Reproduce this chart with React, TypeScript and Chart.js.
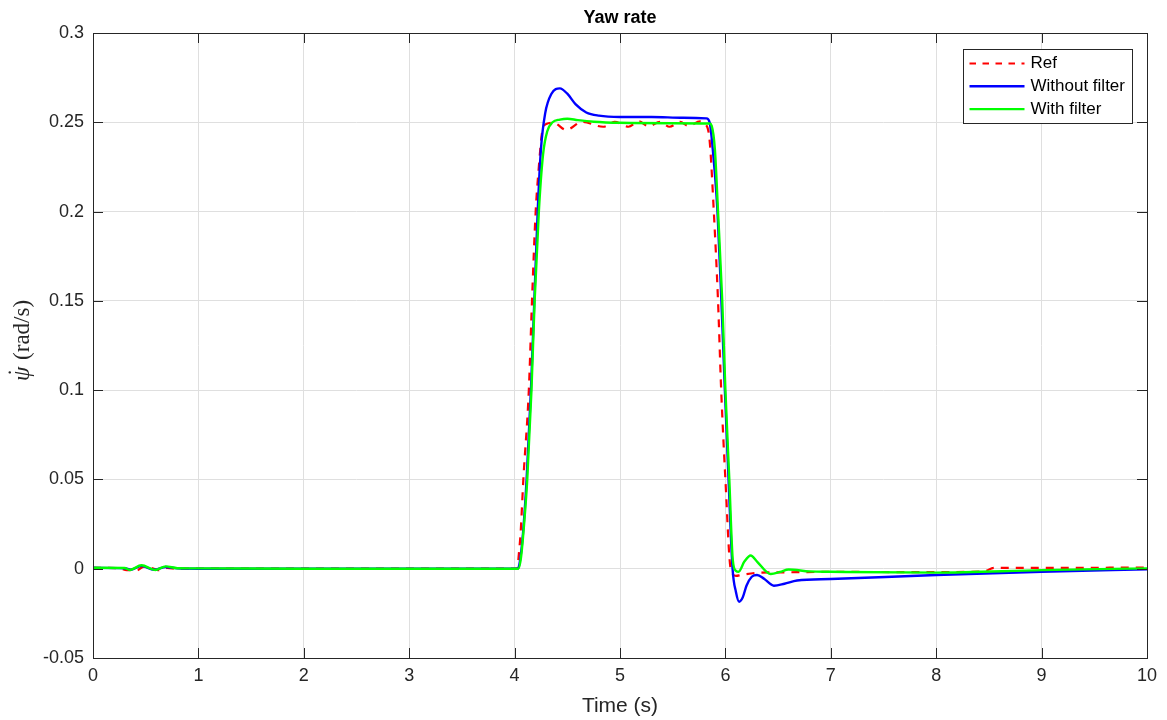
import React, { useEffect, useRef } from "react";
import { Chart, registerables } from "chart.js";

Chart.register(...registerables);

// ---- Data (time in s, yaw rate in rad/s) ----
const refT = [0, 0.25, 0.32, 0.42, 0.48, 0.55, 0.62, 0.7, 0.8, 1, 2, 3, 4.0, 4.026, 4.04, 4.057, 4.083, 4.135, 4.165, 4.2, 4.23, 4.26, 4.3, 4.37, 4.49, 4.64, 4.84, 4.95, 5.08, 5.18, 5.27, 5.38, 5.47, 5.57, 5.65, 5.76, 5.81, 5.85, 5.89, 5.93, 5.96, 6.0, 6.05, 6.1, 6.15, 6.3, 6.6, 7, 8, 8.45, 8.55, 9, 10];
const refY = [0.0005, 0.0003, -0.0008, -0.0008, 0.0012, 0.0005, -0.0008, 0.0004, 0, 0, 0, 0, 0, 0, 0.008, 0.02, 0.05, 0.1, 0.15, 0.2, 0.225, 0.244, 0.249, 0.2497, 0.2457, 0.2503, 0.2475, 0.2502, 0.2475, 0.2505, 0.2477, 0.2502, 0.2475, 0.2502, 0.248, 0.2505, 0.249, 0.24, 0.2, 0.15, 0.1, 0.05, 0, -0.004, -0.0035, -0.0023, -0.002, -0.0018, -0.0019, -0.0015, 0.0005, 0.0005, 0.0006];

const noFilterT = [0, 0.3, 0.36, 0.46, 0.58, 0.69, 0.8, 1, 2, 3, 4.0, 4.03, 4.05, 4.08, 4.114, 4.155, 4.187, 4.219, 4.25, 4.29, 4.35, 4.43, 4.5, 4.58, 4.68, 4.8, 5.0, 5.3, 5.6, 5.82, 5.85, 5.88, 5.925, 5.962, 5.995, 6.03, 6.068, 6.1, 6.13, 6.165, 6.2, 6.25, 6.3, 6.37, 6.46, 6.56, 6.68, 7, 8, 9, 10];
const noFilterY = [0.0005, 0.0003, -0.0006, 0.0016, -0.0006, 0.001, 0.0002, 0, 0, 0, 0, 0, 0.004, 0.02, 0.05, 0.1, 0.15, 0.2, 0.235, 0.255, 0.266, 0.269, 0.266, 0.26, 0.2555, 0.2537, 0.253, 0.253, 0.2525, 0.2522, 0.25, 0.235, 0.2, 0.15, 0.1, 0.05, 0, -0.013, -0.0185, -0.016, -0.0095, -0.0045, -0.0035, -0.0058, -0.0095, -0.0084, -0.0066, -0.0058, -0.0035, -0.0017, -0.0003];

const filterT = [0, 0.3, 0.35, 0.46, 0.59, 0.69, 0.8, 1, 2, 3, 4.0, 4.035, 4.06, 4.09, 4.12, 4.16, 4.19, 4.23, 4.27, 4.31, 4.36, 4.43, 4.5, 4.6, 4.75, 5.0, 5.5, 5.85, 5.87, 5.9, 5.93, 5.97, 6.0, 6.037, 6.07, 6.1, 6.125, 6.18, 6.24, 6.3, 6.43, 6.52, 6.6, 6.8, 7, 8, 9, 10];
const filterY = [0.0005, 0.0004, -0.0007, 0.0019, -0.0007, 0.0013, 0.0003, 0.0002, 0, 0, 0, 0, 0.006, 0.025, 0.05, 0.1, 0.15, 0.2, 0.232, 0.245, 0.25, 0.2515, 0.252, 0.2512, 0.2503, 0.2497, 0.2495, 0.2493, 0.248, 0.235, 0.2, 0.15, 0.1, 0.05, 0.005, -0.0012, -0.0017, 0.004, 0.0074, 0.004, -0.003, -0.0018, -0.0004, -0.0015, -0.0017, -0.0022, -0.0008, 0.0002];

const seriesNames = ["Ref", "Without filter", "With filter"];
const xTickValues = [0, 1, 2, 3, 4, 5, 6, 7, 8, 9, 10];
const yTickValues = [-0.05, 0, 0.05, 0.1, 0.15, 0.2, 0.25, 0.3];
const yTickLabels = ["-0.05", "0", "0.05", "0.1", "0.15", "0.2", "0.25", "0.3"];
const yLabelSymbol = "ψ";
const yLabelDot = "˙";
const yLabelUnit = "(rad/s)";

const SANS = "'Liberation Sans', Arial, Helvetica, sans-serif";
const SERIF = "'Liberation Serif', 'Times New Roman', serif";
const AXIS_COLOR = "#262626";
const GRID_COLOR = "#dfdfdf";

const toPoints = (t: number[], y: number[]) => t.map((x, i) => ({ x, y: y[i] }));

const matlabAxes = {
  id: "matlabAxes",
  afterDraw(chart: any) {
    const { ctx, chartArea: a, scales } = chart;
    const xs = scales.x;
    const ys = scales.y;
    ctx.save();
    ctx.strokeStyle = AXIS_COLOR;
    ctx.lineWidth = 1;
    const tl = 10;
    ctx.beginPath();
    xTickValues.forEach((v) => {
      const px = Math.round(xs.getPixelForValue(v)) + 0.5;
      ctx.moveTo(px, a.bottom);
      ctx.lineTo(px, a.bottom - tl);
      ctx.moveTo(px, a.top);
      ctx.lineTo(px, a.top + tl);
    });
    yTickValues.forEach((v) => {
      const py = Math.round(ys.getPixelForValue(v)) + 0.5;
      ctx.moveTo(a.left, py);
      ctx.lineTo(a.left + tl, py);
      ctx.moveTo(a.right, py);
      ctx.lineTo(a.right - tl, py);
    });
    ctx.stroke();
    ctx.strokeRect(Math.round(a.left) + 0.5, Math.round(a.top) + 0.5, Math.round(a.right - a.left), Math.round(a.bottom - a.top));

    // y-axis label (rotated): italic psi with a dot, then upright unit
    ctx.save();
    const cy = (a.top + a.bottom) / 2 - 5;
    ctx.translate(29, cy);
    ctx.rotate(-Math.PI / 2);
    ctx.fillStyle = AXIS_COLOR;
    ctx.textBaseline = "alphabetic";
    ctx.textAlign = "left";
    const fsz = 23;
    ctx.font = `italic ${fsz}px ${SERIF}`;
    const w1 = ctx.measureText(yLabelSymbol).width;
    ctx.font = `${fsz}px ${SERIF}`;
    const wSp = fsz * 0.3;
    const w2 = ctx.measureText(yLabelUnit).width;
    const x0 = -(w1 + wSp + w2) / 2;
    ctx.font = `italic ${fsz}px ${SERIF}`;
    ctx.fillText(yLabelSymbol, x0, 0);
    ctx.font = `${fsz}px ${SERIF}`;
    ctx.textAlign = "center";
    ctx.fillText(yLabelDot, x0 + w1 * 0.6, -fsz * 0.22);
    ctx.textAlign = "left";
    ctx.fillText(yLabelUnit, x0 + w1 + wSp, 0);
    ctx.restore();

    // legend box inside the axes (top-right)
    const fs = 17;
    ctx.font = `${fs}px ${SANS}`;
    const ds = chart.data.datasets;
    const maxW = Math.max(...ds.map((d: any) => ctx.measureText(d.label).width));
    const rowH = 22.8;
    const bw = Math.round(66 + maxW + 9);
    const bh = Math.round(28 + (ds.length - 1) * rowH);
    const bx = Math.round(a.right - 15 - bw) + 0.5;
    const by = Math.round(a.top + 16) + 0.5;
    ctx.fillStyle = "#ffffff";
    ctx.fillRect(bx, by, bw, bh);
    ctx.strokeStyle = AXIS_COLOR;
    ctx.lineWidth = 1;
    ctx.strokeRect(bx, by, bw, bh);
    ds.forEach((d: any, i: number) => {
      const ly = by + 14 + i * rowH;
      ctx.beginPath();
      ctx.setLineDash(d.borderDash ? [6.5, 6.5] : []);
      ctx.strokeStyle = d.borderColor;
      ctx.lineWidth = d.borderWidth;
      ctx.moveTo(bx + 6, ly);
      ctx.lineTo(bx + 61, ly);
      ctx.stroke();
      ctx.setLineDash([]);
      ctx.fillStyle = "#000000";
      ctx.textBaseline = "middle";
      ctx.textAlign = "left";
      ctx.fillText(d.label, bx + 67, ly);
    });
    ctx.restore();
  },
};

export default function App() {
  const canvasRef = useRef<HTMLCanvasElement | null>(null);

  useEffect(() => {
    if (!canvasRef.current) return;
    const chart = new Chart(canvasRef.current, {
      type: "line",
      data: {
        datasets: [
          {
            label: seriesNames[0],
            data: toPoints(refT, refY),
            borderColor: "#ff0000",
            borderWidth: 2.2,
            borderDash: [8, 7],
            pointRadius: 0,
            fill: false,
            cubicInterpolationMode: "monotone",
            order: 3,
          },
          {
            label: seriesNames[1],
            data: toPoints(noFilterT, noFilterY),
            borderColor: "#0000ff",
            borderWidth: 2.4,
            pointRadius: 0,
            fill: false,
            cubicInterpolationMode: "monotone",
            order: 2,
          },
          {
            label: seriesNames[2],
            data: toPoints(filterT, filterY),
            borderColor: "#00ff00",
            borderWidth: 2.4,
            pointRadius: 0,
            fill: false,
            cubicInterpolationMode: "monotone",
            order: 1,
          },
        ],
      },
      options: {
        responsive: false,
        animation: false,
        events: [],
        layout: { padding: { left: 0, right: 20, top: 0, bottom: 0 } },
        plugins: {
          legend: { display: false },
          tooltip: { enabled: false },
          title: {
            display: true,
            text: "Yaw rate",
            fullSize: false,
            color: "#000000",
            font: { family: SANS, size: 18, weight: "bold" },
            padding: { top: 7, bottom: 4.4 },
          },
        },
        scales: {
          x: {
            type: "linear",
            min: 0,
            max: 10,
            afterBuildTicks: (s: any) => {
              s.ticks = xTickValues.map((v) => ({ value: v }));
            },
            afterFit: (s: any) => {
              s.height = 62;
            },
            ticks: {
              color: AXIS_COLOR,
              font: { family: SANS, size: 18 },
              padding: 7,
              maxRotation: 0,
              callback: (v: any) => String(v),
            },
            grid: { color: GRID_COLOR, drawTicks: false, lineWidth: 1 },
            border: { display: false },
            title: {
              display: true,
              text: "Time (s)",
              color: AXIS_COLOR,
              font: { family: SANS, size: 21 },
              padding: { top: 0, bottom: 1 },
            },
          },
          y: {
            type: "linear",
            min: -0.05,
            max: 0.3,
            afterBuildTicks: (s: any) => {
              s.ticks = yTickValues.map((v) => ({ value: v }));
            },
            afterFit: (s: any) => {
              s.width = 93;
            },
            ticks: {
              color: AXIS_COLOR,
              font: { family: SANS, size: 18 },
              padding: 9,
              callback: (v: any) => {
                const i = yTickValues.findIndex((t) => Math.abs(t - v) < 1e-9);
                return i >= 0 ? yTickLabels[i] : "";
              },
            },
            grid: { color: GRID_COLOR, drawTicks: false, lineWidth: 1 },
            border: { display: false },
            title: { display: false },
          },
        },
      },
      plugins: [matlabAxes],
    });
    return () => chart.destroy();
  }, []);

  return (
    <div style={{ position: "absolute", left: 0, top: 0, width: 1167, height: 720, background: "#ffffff" }}>
      <canvas ref={canvasRef} width={1167} height={720} style={{ display: "block" }} />
    </div>
  );
}
